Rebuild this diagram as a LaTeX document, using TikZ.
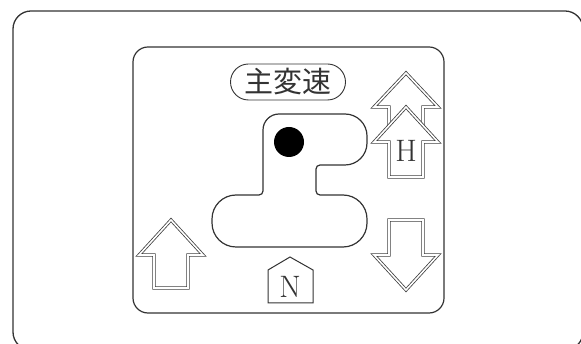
\documentclass[tikz,border=0pt]{standalone}
\usepackage{fontspec}
\newfontfamily\jpfont{Noto Sans CJK JP}

\begin{document}
\begin{tikzpicture}[x=1pt,y=-1pt,
	frame/.style={draw=black!80, line width=1.3pt},
	dblarrow/.style={draw=black!75, double=white, double distance=1.6pt, line width=0.8pt, fill=white, line join=miter},
	letter/.style={font=\fontsize{31}{31}\selectfont, inner sep=0pt, text=black!80}]
		\useasboundingbox (0,0) rectangle (581,344);
		
		\draw [frame, rounded corners=18pt] (13,11) rectangle (583,350);
		\draw [frame, line width=1.2pt, rounded corners=15pt] (133,47) rectangle (444,313);
		
		\node [draw=black!80, line width=0.9pt, rounded corners=18pt, minimum width=115pt, minimum height=36pt, inner sep=0pt, text=black!80, font=\jpfont\fontsize{29}{29}\selectfont] (gear) at (288,82) {主変速};
		
		\draw [black!80, line width=1.2pt, rounded corners=24pt] (290,247) -- (212,247) -- (212,195) [rounded corners=4pt] -- (263,195) [rounded corners=16pt] -- (263,114) [rounded corners=22pt] -- (367,114) -- (367,165) [rounded corners=4pt] -- (316,165) -- (316,195) [rounded corners=24pt] -- (367,195) -- (367,247) -- cycle;
		\fill [black] (289,142) circle (15pt);
		
		\draw [dblarrow] (171,220) -- (203,255) -- (188,255) -- (188,288) -- (154,288) -- (154,255) -- (139,255) -- cycle;
		
		\draw [dblarrow] (406,73) -- (438,107) -- (423,107) -- (423,140) -- (389,140) -- (389,107) -- (374,107) -- cycle;
		\draw [dblarrow] (406,107) -- (438,142) -- (423,142) -- (423,177) -- (389,177) -- (389,142) -- (374,142) -- cycle;
		\node [letter] (hmark) at (406,151) {H};
		
		\draw [dblarrow] (406,290) -- (438,255) -- (423,255) -- (423,220) -- (389,220) -- (389,255) -- (374,255) -- cycle;
		
		\draw [black!80, line width=1pt] (268,303) -- (268,270) -- (290,257) -- (313,270) -- (313,303) -- cycle;
		\node [letter] (nmark) at (290,287) {N};
	\end{tikzpicture}
\end{document}
